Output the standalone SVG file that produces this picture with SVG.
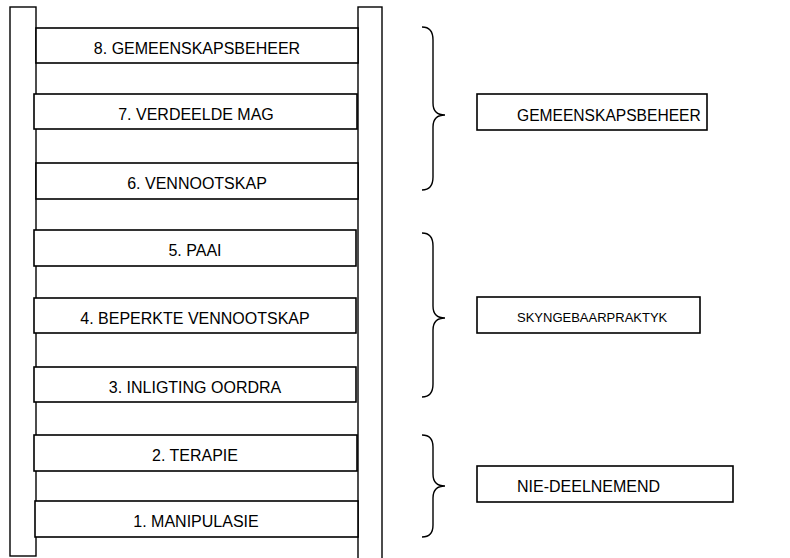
<svg xmlns="http://www.w3.org/2000/svg" width="790" height="558" viewBox="0 0 790 558">
<style>
.rail{fill:#fff;stroke:#000;stroke-width:1.4}
.rung{fill:#fff;stroke:#000;stroke-width:1.6}
.box{fill:#fff;stroke:#000;stroke-width:1.6}
.brace{fill:none;stroke:#000;stroke-width:1.4}
text{font-family:"Liberation Sans",Arial,sans-serif;font-size:16px;fill:#000}
.c{text-anchor:middle}
</style>
<rect width="790" height="558" fill="#fff"/>
<g id="rails">
<rect class="rail" x="10" y="7" width="26" height="549"/>
<rect class="rail" x="358" y="7" width="24" height="560"/>
</g>
<g id="rung8"><rect class="rung" x="36" y="28" width="322" height="35"/><text class="c" x="197" y="54">8. GEMEENSKAPSBEHEER</text></g>
<g id="rung7"><rect class="rung" x="34" y="94" width="323" height="35"/><text class="c" x="196" y="120">7. VERDEELDE MAG</text></g>
<g id="rung6"><rect class="rung" x="36" y="163" width="322" height="36"/><text class="c" x="197" y="189">6. VENNOOTSKAP</text></g>
<g id="rung5"><rect class="rung" x="34" y="230" width="322" height="36"/><text class="c" x="195" y="256">5. PAAI</text></g>
<g id="rung4"><rect class="rung" x="34" y="298" width="322" height="35"/><text class="c" x="195" y="324">4. BEPERKTE VENNOOTSKAP</text></g>
<g id="rung3"><rect class="rung" x="34" y="367" width="322" height="35"/><text class="c" x="195" y="393">3. INLIGTING OORDRA</text></g>
<g id="rung2"><rect class="rung" x="34" y="435" width="323" height="36"/><text class="c" x="195" y="461">2. TERAPIE</text></g>
<g id="rung1"><rect class="rung" x="35" y="501" width="323" height="36"/><text class="c" x="196" y="527">1. MANIPULASIE</text></g>
<g id="connectors">
<path class="brace" d="M422,27 Q433,27 433,40 L433,103 Q433,115 445,115 Q433,115 433,127 L433,177 Q433,190 422,190"/>
<path class="brace" d="M422,233 Q433,233 433,246 L433,306 Q433,318 445,318 Q433,318 433,330 L433,384 Q433,397 422,397"/>
<path class="brace" d="M422,435 Q433,435 433,447 L433,474 Q433,486 445,486 Q433,486 433,498 L433,525 Q433,537 422,537"/>
</g>
<g id="group-gemeenskapsbeheer"><rect class="box" x="477" y="94" width="230" height="36"/><text x="517" y="120.5" style="font-size:15.6px">GEMEENSKAPSBEHEER</text></g>
<g id="group-skyngebaarpraktyk"><rect class="box" x="477" y="297" width="223" height="36"/><text x="517" y="321.5" style="font-size:13px">SKYNGEBAARPRAKTYK</text></g>
<g id="group-nie-deelnemend"><rect class="box" x="477" y="466" width="256" height="36"/><text x="517" y="491.5">NIE-DEELNEMEND</text></g>
</svg>
